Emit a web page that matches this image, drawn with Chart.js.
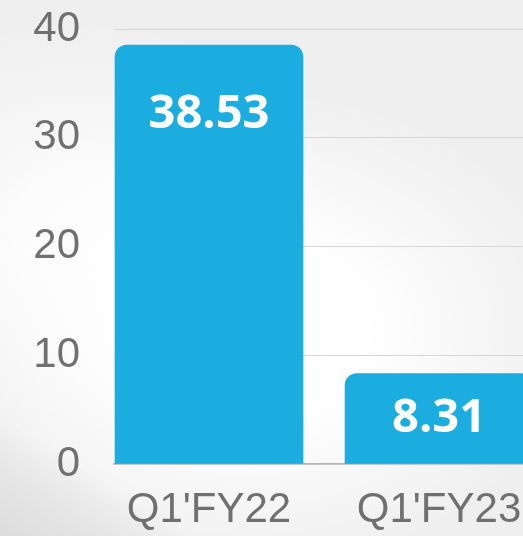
<!DOCTYPE html>
<html>
<head>
<meta charset="utf-8">
<script src="https://cdn.jsdelivr.net/npm/chart.js@4"></script>
<style>
  html, body { margin: 0; padding: 0; }
  body {
    width: 523px; height: 536px; overflow: hidden;
    background:
      linear-gradient(32deg, #dcdcdc 0%, #e8e8e8 9%, rgba(240,240,240,0) 14%),
      radial-gradient(ellipse 330px 240px at 250px 330px, #ffffff 35%, rgba(255,255,255,0) 100%),
      radial-gradient(ellipse 260px 200px at 80px 220px, #fbfbfb 20%, rgba(251,251,251,0) 100%),
      #efefef;
  }
  #wrap { position: relative; width: 523px; height: 536px; }
</style>
</head>
<body>
<div id="wrap"><canvas id="barChart"></canvas></div>
<script>
const categories = ["Q1'FY22", "Q1'FY23"];
const values = [38.53, 8.31];
const yTicks = [0, 10, 20, 30, 40];

// draws the value inside each bar, near its top
const barValueLabels = {
    id: 'barValueLabels',
    afterDatasetsDraw(chart) {
        const ctx = chart.ctx;
        const meta = chart.getDatasetMeta(0);
        ctx.save();
        ctx.fillStyle = '#ffffff';
        ctx.font = 'bold 47px "Open Sans"';
        ctx.textAlign = 'center';
        ctx.textBaseline = 'middle';
        meta.data.forEach((bar, i) => {
            const y = Math.min(bar.y + 70, (bar.y + bar.base) / 2);
            ctx.fillText(values[i].toFixed(2), bar.x, y);
        });
        ctx.restore();
    }
};

document.addEventListener('DOMContentLoaded', function () {
    const ctx = document.getElementById('barChart').getContext('2d');
    const chart = new Chart(ctx, {
        type: 'bar',
        data: {
            datasets: [{
                data: categories.map((c, i) => ({ x: i, y: values[i] })),
                backgroundColor: '#1badE0',
                borderRadius: 12,
                borderSkipped: 'start',
                barThickness: 188
            }]
        },
        options: {
            responsive: true,
            maintainAspectRatio: false,
            animation: false,
            layout: { padding: { left: 33, top: 29, right: 0, bottom: 0 } },
            plugins: { legend: { display: false }, tooltip: { enabled: false } },
            scales: {
                x: {
                    type: 'linear',
                    offset: false,
                    min: -0.413,
                    max: 1.365,
                    afterBuildTicks: scale => {
                        scale.ticks = categories.map((c, i) => ({ value: i }));
                    },
                    afterFit: scale => {
                        scale.height = 72;
                        scale.paddingLeft = 0;
                        scale.paddingRight = 0;
                    },
                    grid: { display: false },
                    border: { display: true, color: '#b4b4b4', width: 1.5 },
                    ticks: {
                        callback: v => categories[v],
                        color: '#707070',
                        font: { family: '"Liberation Sans", Arial', size: 42 },
                        padding: 13,
                        maxRotation: 0,
                        autoSkip: false
                    }
                },
                y: {
                    min: 0,
                    max: 40,
                    afterBuildTicks: scale => {
                        scale.ticks = yTicks.map(v => ({ value: v }));
                    },
                    afterFit: scale => {
                        scale.width = 81;
                        scale.paddingTop = 0;
                        scale.paddingBottom = 0;
                    },
                    grid: { color: '#d6d6d6', lineWidth: 1, drawTicks: false },
                    border: { display: false },
                    ticks: {
                        color: '#707070',
                        font: { family: '"Liberation Sans", Arial', size: 42 },
                        padding: 34
                    }
                }
            }
        },
        plugins: [barValueLabels]
    });
    window.myBarChart = chart;
});
</script>
</body>
</html>
